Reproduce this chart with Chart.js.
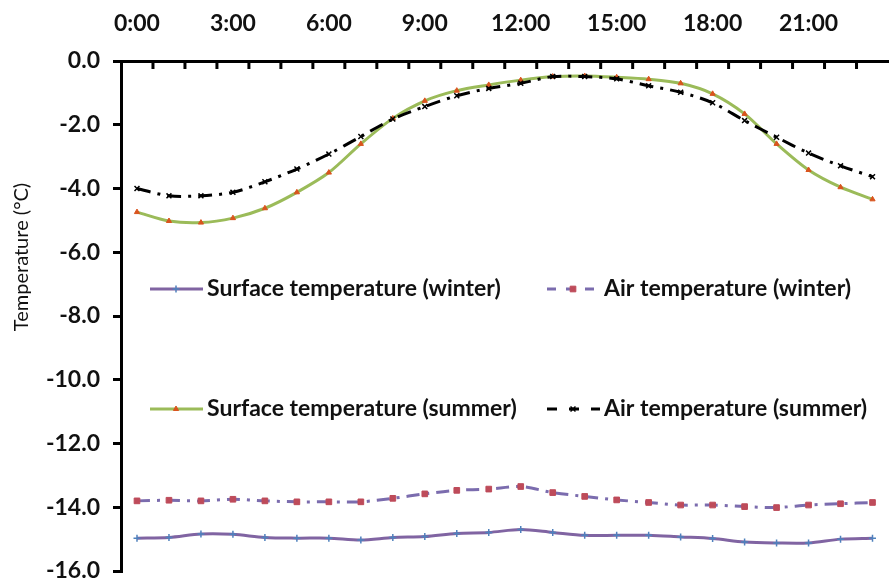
<!DOCTYPE html>
<html>
<head>
<meta charset="utf-8">
<title>Surface and air temperature</title>
<script src="https://cdn.jsdelivr.net/npm/chart.js@4.4.1/dist/chart.umd.min.js"></script>
<style>
    html, body { margin: 0; padding: 0; background: #fff; }
    #wrap { width: 894px; height: 583px; position: relative; }
</style>
</head>
<body>
<div id="wrap"><canvas id="tempChart"></canvas></div>
<script>
// Hours of the day (category axis)
const hours = ['0:00', '1:00', '2:00', '3:00', '4:00', '5:00', '6:00', '7:00', '8:00', '9:00', '10:00', '11:00',
               '12:00', '13:00', '14:00', '15:00', '16:00', '17:00', '18:00', '19:00', '20:00', '21:00', '22:00', '23:00'];

// Temperatures in deg C
const surfaceWinter = [-14.97, -14.95, -14.84, -14.85, -14.95, -14.97, -14.97, -15.03, -14.95, -14.92, -14.82, -14.79,
                       -14.70, -14.79, -14.88, -14.88, -14.88, -14.93, -14.98, -15.09, -15.12, -15.12, -15.00, -14.97];
const airWinter = [-13.80, -13.78, -13.80, -13.75, -13.80, -13.83, -13.83, -13.83, -13.72, -13.58, -13.47, -13.43,
                   -13.35, -13.54, -13.66, -13.77, -13.85, -13.93, -13.93, -13.98, -14.01, -13.93, -13.89, -13.85];
const surfaceSummer = [-4.74, -5.02, -5.07, -4.93, -4.62, -4.12, -3.50, -2.60, -1.80, -1.25, -0.93, -0.75,
                       -0.60, -0.49, -0.47, -0.51, -0.57, -0.70, -1.03, -1.66, -2.60, -3.42, -3.96, -4.34];
const airSummer = [-4.00, -4.23, -4.23, -4.12, -3.79, -3.39, -2.92, -2.37, -1.82, -1.43, -1.09, -0.86,
                   -0.70, -0.49, -0.49, -0.56, -0.78, -0.98, -1.31, -1.87, -2.39, -2.89, -3.29, -3.63];

// Axis settings
const yMin = -16;
const yMax = 0;
const yStep = 2;
const labelEvery = 3;
const yTitle = 'Temperature (°C)';

const seriesNames = ['Surface temperature (winter)', 'Air temperature (winter)',
                     'Surface temperature (summer)', 'Air temperature (summer)'];

const FONT = 'Lato, "Open Sans", sans-serif';

// Extra drawing: inward top ticks, y title, 2x2 legend inside the plot
const extrasPlugin = {
    id: 'extras',
    afterDraw(chart) {
        const ctx = chart.ctx;
        const area = chart.chartArea;
        const xs = chart.scales.x;

        // tick marks between categories, pointing down into the plot
        ctx.save();
        ctx.strokeStyle = '#000';
        ctx.lineWidth = 3;
        ctx.beginPath();
        for (let i = 1; i < hours.length; i++) {
            const x = (xs.getPixelForValue(i - 1) + xs.getPixelForValue(i)) / 2;
            ctx.moveTo(x, area.top);
            ctx.lineTo(x, area.top + 8);
        }
        ctx.stroke();
        ctx.restore();

        // y axis title
        ctx.save();
        ctx.translate(22, 257);
        ctx.rotate(-Math.PI / 2);
        ctx.fillStyle = '#111';
        ctx.font = '20px ' + FONT;
        ctx.textAlign = 'center';
        ctx.textBaseline = 'middle';
        ctx.fillText(yTitle, 0, 0);
        ctx.restore();

        // legend
        const spots = [
            { x: 150, y: 289 }, { x: 547, y: 289 },
            { x: 150, y: 409 }, { x: 547, y: 409 }
        ];
        chart.data.datasets.forEach((ds, i) => {
            const s = spots[i];
            ctx.save();
            ctx.strokeStyle = ds.borderColor;
            ctx.lineWidth = ds.borderWidth;
            ctx.setLineDash(ds.legendDash || []);
            ctx.beginPath();
            ctx.moveTo(s.x, s.y);
            ctx.lineTo(s.x + 53, s.y);
            ctx.stroke();
            ctx.setLineDash([]);
            ctx.fillStyle = ds.pointBackgroundColor;
            ctx.strokeStyle = ds.pointBorderColor;
            ctx.lineWidth = ds.pointBorderWidth;
            Chart.helpers.drawPoint(ctx, {
                pointStyle: ds.pointStyle,
                radius: ds.pointRadius,
                rotation: 0,
                borderWidth: ds.pointBorderWidth
            }, s.x + 26, s.y);
            ctx.fillStyle = '#111';
            ctx.font = 'bold 23px ' + FONT;
            ctx.textAlign = 'left';
            ctx.textBaseline = 'middle';
            ctx.fillText(ds.label, s.x + 57, s.y);
            ctx.restore();
        });
    }
};

const ctx = document.getElementById('tempChart').getContext('2d');

new Chart(ctx, {
    type: 'line',
    data: {
        labels: hours,
        datasets: [
            {
                label: seriesNames[0],
                data: surfaceWinter,
                borderColor: '#8064A2',
                borderWidth: 3,
                tension: 0.3,
                pointStyle: 'cross',
                pointRadius: 3.5,
                pointBorderWidth: 1.5,
                pointBackgroundColor: '#4F81BD',
                pointBorderColor: '#4F81BD',
                order: 4
            },
            {
                label: seriesNames[1],
                data: airWinter,
                borderColor: '#7B6CAE',
                borderWidth: 3,
                borderDash: [13, 7, 3, 7],
                legendDash: [9, 10],
                tension: 0.3,
                pointStyle: 'rect',
                pointRadius: 4,
                pointBorderWidth: 1,
                pointBackgroundColor: '#BE4B5A',
                pointBorderColor: '#BE4B5A',
                order: 3
            },
            {
                label: seriesNames[2],
                data: surfaceSummer,
                borderColor: '#9BBB59',
                borderWidth: 3,
                tension: 0.3,
                pointStyle: 'triangle',
                pointRadius: 3,
                pointBorderWidth: 1,
                pointBackgroundColor: '#D9541E',
                pointBorderColor: '#D9541E',
                order: 2
            },
            {
                label: seriesNames[3],
                data: airSummer,
                borderColor: '#000',
                borderWidth: 3,
                borderDash: [14, 7, 3, 7],
                legendDash: [10, 12],
                tension: 0.3,
                pointStyle: 'crossRot',
                pointRadius: 3.5,
                pointBorderWidth: 1.5,
                pointBackgroundColor: '#000',
                pointBorderColor: '#000',
                order: 1
            }
        ]
    },
    options: {
        responsive: true,
        maintainAspectRatio: false,
        animation: false,
        layout: { padding: { left: 0, right: -4, top: 0, bottom: 12 } },
        plugins: {
            legend: { display: false },
            tooltip: { enabled: false }
        },
        scales: {
            x: {
                type: 'category',
                position: 'top',
                offset: true,
                grid: { offset: true, drawOnChartArea: false, drawTicks: false },
                border: { display: true, color: '#000', width: 3 },
                ticks: {
                    autoSkip: false,
                    maxRotation: 0,
                    padding: 24,
                    color: '#111',
                    font: { family: FONT, size: 23, weight: 'bold' },
                    callback: function(value, index) {
                        return index % labelEvery === 0 ? hours[index] : '';
                    }
                },
                afterFit: function(scale) {
                    scale.height = 61;
                    scale.paddingLeft = 0;
                    scale.paddingRight = 0;
                }
            },
            y: {
                min: yMin,
                max: yMax,
                grid: { drawOnChartArea: false, drawTicks: true, tickLength: 8, lineWidth: 3, color: '#000' },
                border: { display: true, color: '#000', width: 3 },
                ticks: {
                    stepSize: yStep,
                    padding: 13,
                    color: '#111',
                    font: { family: FONT, size: 23, weight: 'bold' },
                    callback: function(value) { return value.toFixed(1); }
                },
                afterFit: function(scale) {
                    scale.width = 121;
                    scale.paddingTop = 0;
                    scale.paddingBottom = 0;
                }
            }
        }
    },
    plugins: [extrasPlugin]
});
</script>
</body>
</html>
